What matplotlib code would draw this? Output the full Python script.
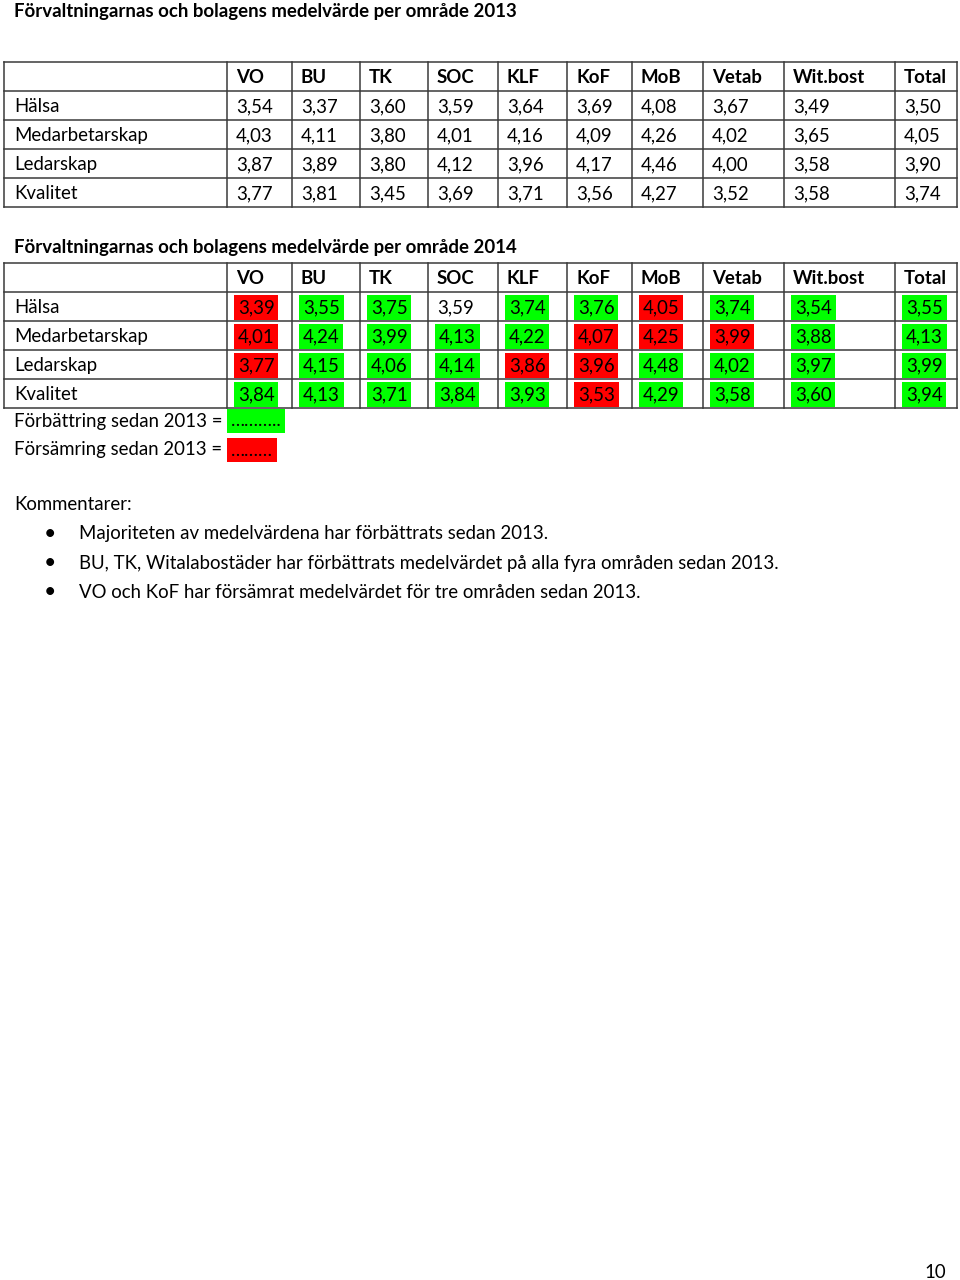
import matplotlib
matplotlib.use("Agg")
import matplotlib.pyplot as plt

plt.rcParams['font.family'] = ['Lato', 'DejaVu Sans']

units = ["VO", "BU", "TK", "SOC", "KLF", "KoF", "MoB", "Vetab", "Wit.bost", "Total"]
areas = ["Hälsa", "Medarbetarskap", "Ledarskap", "Kvalitet"]

vals_2013 = [
    [3.54, 3.37, 3.60, 3.59, 3.64, 3.69, 4.08, 3.67, 3.49, 3.50],
    [4.03, 4.11, 3.80, 4.01, 4.16, 4.09, 4.26, 4.02, 3.65, 4.05],
    [3.87, 3.89, 3.80, 4.12, 3.96, 4.17, 4.46, 4.00, 3.58, 3.90],
    [3.77, 3.81, 3.45, 3.69, 3.71, 3.56, 4.27, 3.52, 3.58, 3.74],
]
vals_2014 = [
    [3.39, 3.55, 3.75, 3.59, 3.74, 3.76, 4.05, 3.74, 3.54, 3.55],
    [4.01, 4.24, 3.99, 4.13, 4.22, 4.07, 4.25, 3.99, 3.88, 4.13],
    [3.77, 4.15, 4.06, 4.14, 3.86, 3.96, 4.48, 4.02, 3.97, 3.99],
    [3.84, 4.13, 3.71, 3.84, 3.93, 3.53, 4.29, 3.58, 3.60, 3.94],
]

comments = [
    "Majoriteten av medelvärdena har förbättrats sedan 2013.",
    "BU, TK, Witalabostäder har förbättrats medelvärdet på alla fyra områden sedan 2013.",
    "VO och KoF har försämrat medelvärdet för tre områden sedan 2013.",
]

GREEN = "#00ff00"
RED = "#ff0000"
LINE = "#3a3a3a"
FS = 13.4

# column edges in page pixels
col_edges = [4, 227, 292, 360, 428, 498, 567, 632, 703, 784, 895, 957]
row_h = 29

fig = plt.figure(figsize=(9.6, 12.8), dpi=100)
ax = fig.add_axes([0, 0, 1, 1])
ax.set_xlim(0, 960)
ax.set_ylim(1280, 0)
ax.axis("off")


def fmt(v):
    return f"{v:.2f}".replace(".", ",")


def draw_table(top, values, ref=None):
    n_rows = len(values) + 1
    for i in range(n_rows + 1):
        ax.plot([col_edges[0], col_edges[-1]], [top + i * row_h] * 2, color=LINE, lw=1.1)
    for x in col_edges:
        ax.plot([x, x], [top, top + n_rows * row_h], color=LINE, lw=1.1)
    yc = top + row_h / 2 + 1
    for j, u in enumerate(units):
        ax.text(col_edges[j + 1] + 9, yc, u, fontsize=FS, fontweight="bold",
                va="center", ha="left")
    for i, area in enumerate(areas):
        yc = top + (i + 1.5) * row_h + 1
        ax.text(14, yc, area, fontsize=FS, va="center", ha="left")
        for j, v in enumerate(values[i]):
            bbox = None
            x = col_edges[j + 1] + 9
            if ref is not None and v != ref[i][j]:
                fc = GREEN if v > ref[i][j] else RED
                bbox = dict(boxstyle="square,pad=0.2", fc=fc, ec="none")
                x += 2
            ax.text(x, yc, fmt(v), fontsize=FS, va="center",
                    ha="left", bbox=bbox)


ax.text(14, 11, "Förvaltningarnas och bolagens medelvärde per område 2013",
        fontsize=FS, fontweight="bold", va="center")
draw_table(62, vals_2013)

ax.text(14, 247, "Förvaltningarnas och bolagens medelvärde per område 2014",
        fontsize=FS, fontweight="bold", va="center")
draw_table(263, vals_2014, ref=vals_2013)

ax.text(14, 421, "Förbättring sedan 2013 =", fontsize=FS, va="center")
ax.text(231, 421, "………..", fontsize=FS, va="center",
        bbox=dict(boxstyle="square,pad=0.2", fc=GREEN, ec="none"))
ax.text(14, 450, "Försämring sedan 2013 =", fontsize=FS, va="center")
ax.text(231, 450, "………", fontsize=FS, va="center",
        bbox=dict(boxstyle="square,pad=0.2", fc=RED, ec="none"))

ax.text(14, 505, "Kommentarer:", fontsize=FS, va="center")
for k, c in enumerate(comments):
    y = 534 + k * 29
    ax.text(50, y, "•", fontsize=FS + 2, va="center", ha="center")
    ax.text(79, y, c, fontsize=FS, va="center")

ax.text(946, 1272, "10", fontsize=FS, va="center", ha="right")

fig.savefig("out.png", dpi=100)
